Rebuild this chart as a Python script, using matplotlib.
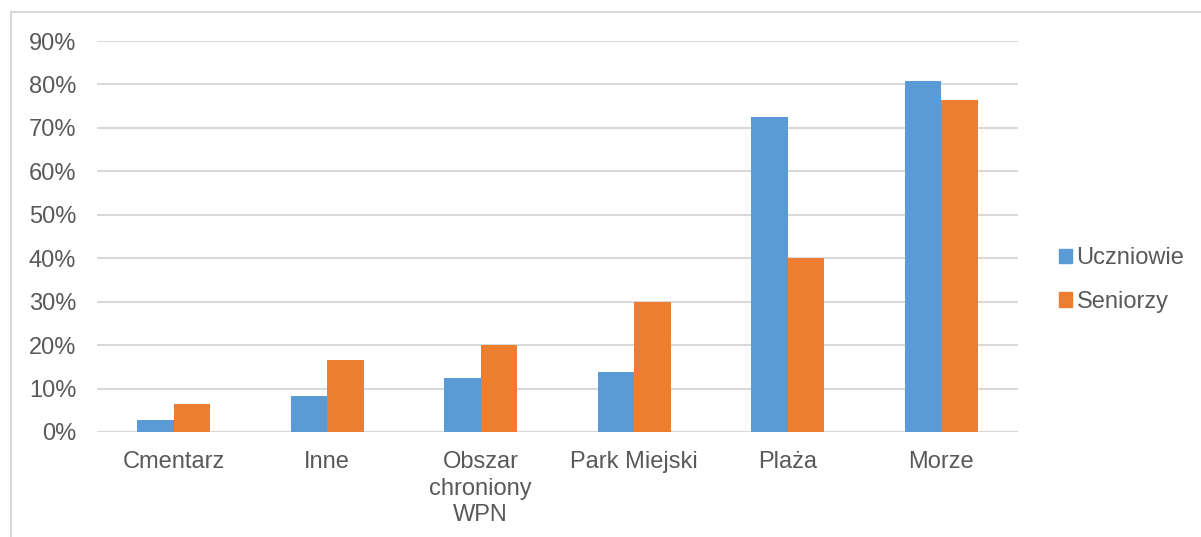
import matplotlib.pyplot as plt
import matplotlib.patches as mpatches
import numpy as np

categories = ['Cmentarz', 'Inne', 'Obszar\nchroniony\nWPN', 'Park Miejski', 'Plaża', 'Morze']
uczniowie = [2.7, 8.2, 12.4, 13.7, 72.4, 80.7]
seniorzy = [6.5, 16.6, 20.0, 30.0, 40.0, 76.5]
series_names = ['Uczniowie', 'Seniorzy']
yticks = [0, 10, 20, 30, 40, 50, 60, 70, 80, 90]

blue = '#5B9BD5'
orange = '#ED7D31'
txt = '#595959'
grid = '#D9D9D9'

plt.rcParams['font.family'] = ['Liberation Sans', 'DejaVu Sans']
plt.rcParams['font.size'] = 17

fig = plt.figure(figsize=(12.01, 5.37), dpi=100)
ax = fig.add_axes([97 / 1201, 1 - 432 / 537, 921 / 1201, 391 / 537])

x = np.arange(len(categories))
w = 0.237
ax.bar(x - w / 2, uczniowie, w, color=blue, zorder=3)
ax.bar(x + w / 2, seniorzy, w, color=orange, zorder=3)

ax.set_xlim(-0.5, len(categories) - 0.5)
ax.set_ylim(0, 90)
ax.set_yticks(yticks)
ax.set_yticklabels([f'{v}%' for v in yticks])
ax.set_xticks(x)
ax.set_xticklabels(categories, linespacing=1.25)
ax.yaxis.grid(True, color=grid, linewidth=1.5, zorder=0)
ax.tick_params(axis='both', length=0, colors=txt, labelsize=17)
ax.tick_params(axis='y', pad=15)
ax.tick_params(axis='x', pad=14)
for s in ax.spines.values():
    s.set_visible(False)
ax.axhline(0, color=grid, linewidth=1.5, zorder=2)

handles = [mpatches.Patch(color=blue, label=series_names[0]),
           mpatches.Patch(color=orange, label=series_names[1])]
fig.legend(handles=handles, loc='center left', bbox_to_anchor=(1047 / 1201, 1 - 280 / 537),
           frameon=False, handlelength=0.55, handleheight=0.55, handletextpad=0.2,
           labelspacing=0.92, labelcolor=txt, fontsize=17, borderpad=0)

fig.patches.append(mpatches.Rectangle((11 / 1201, -0.01), 1.1, 1 - 12 / 537 + 0.01,
                                      transform=fig.transFigure, fill=False,
                                      edgecolor=grid, linewidth=1.5))

fig.savefig('out.png', dpi=100)
